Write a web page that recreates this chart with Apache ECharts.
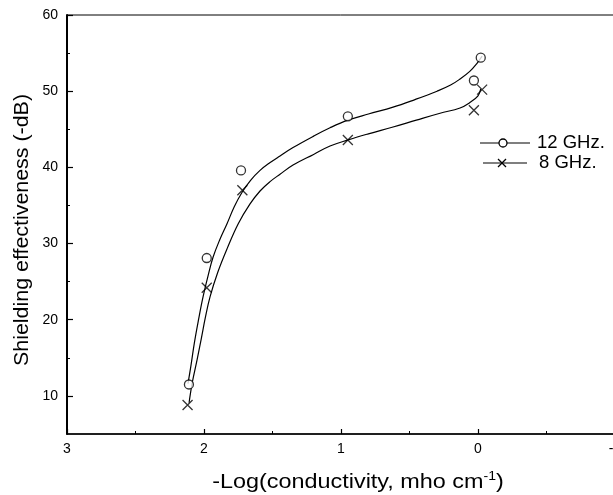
<!DOCTYPE html>
<html>
<head>
<meta charset="utf-8">
<script src="https://cdn.jsdelivr.net/npm/echarts@6/dist/echarts.min.js"></script>
<style>html,body{margin:0;padding:0;background:#fff}#c{width:613px;height:495px}</style>
</head>
<body>
<div id="c"></div>
<script>
// measured points [ -log(conductivity), shielding effectiveness ]
const pts12 = [[2.11, 11.5], [1.98, 28.1], [1.73, 39.6], [0.95, 46.7], [0.03, 51.4], [-0.02, 54.4]];
const pts8  = [[2.12, 8.8], [1.98, 24.2], [1.72, 37.0], [0.95, 43.6], [0.03, 47.5], [-0.03, 50.2]];
// fitted curves
const curve12 = [[2.117, 11.6], [2.095, 14.0], [2.070, 17.0], [2.040, 20.0], [2.007, 23.0], [1.970, 25.8],
  [1.934, 28.2], [1.885, 30.5], [1.832, 32.6], [1.780, 34.8], [1.723, 36.7], [1.660, 38.3], [1.591, 39.6],
  [1.520, 40.6], [1.445, 41.5], [1.350, 42.6], [1.200, 44.1], [1.080, 45.2], [0.949, 46.2], [0.800, 47.0],
  [0.620, 47.9], [0.460, 48.9], [0.299, 50.0], [0.200, 50.8], [0.131, 51.6], [0.060, 52.6], [0.010, 53.6],
  [-0.030, 54.6]];
const curve8 = [[2.109, 9.1], [2.085, 11.8], [2.051, 14.7], [2.020, 17.5], [1.990, 20.3], [1.956, 23.0],
  [1.900, 26.2], [1.832, 29.3], [1.750, 32.6], [1.664, 35.2], [1.591, 36.9], [1.520, 38.1], [1.445, 39.1],
  [1.350, 40.3], [1.200, 41.7], [1.080, 42.8], [0.949, 43.6], [0.800, 44.4], [0.620, 45.3], [0.450, 46.2],
  [0.277, 47.1], [0.131, 47.8], [0.060, 48.5], [0.000, 49.4], [-0.020, 50.3]];
const yMajor = [10, 20, 30, 40, 50, 60];
const yMinor = [15, 25, 35, 45, 55];
const legendNames = ['12 GHz.', '8 GHz.'];
const xTitle = ['-Log(conductivity, mho cm', '-1', ')'];
const yTitle = 'Shielding effectiveness (-dB)';

const FONT = 'Liberation Sans, Arial, sans-serif';
const crossPath = 'path://M0,0L10,10M10,0L0,10';
const chart = echarts.init(document.getElementById('c'), null, {renderer: 'canvas'});
chart.setOption({
  animation: false,
  backgroundColor: '#fff',
  grid: {left: 67, top: 15, right: -2, bottom: 61, outerBoundsMode: 'none', containLabel: false,
    show: true, borderColor: '#000', borderWidth: 1, backgroundColor: 'transparent'},
  xAxis: {
    type: 'value', inverse: true, min: -1, max: 3, interval: 1,
    axisLine: {onZero: false, lineStyle: {color: '#000', width: 1.5}},
    axisTick: {inside: true, length: 5, lineStyle: {color: '#000', width: 1.2}},
    minorTick: {show: true, splitNumber: 2, length: 3, lineStyle: {color: '#000', width: 1}},
    axisLabel: {fontFamily: FONT, fontSize: 14, color: '#000', margin: 8},
    splitLine: {show: false}
  },
  yAxis: [{
    type: 'value', min: 5, max: 60,
    axisLine: {onZero: false, lineStyle: {color: '#000', width: 2}},
    axisTick: {inside: true, length: 6, customValues: yMajor, lineStyle: {color: '#000', width: 1.2}},
    axisLabel: {fontFamily: FONT, fontSize: 14, color: '#000', margin: 9, customValues: yMajor},
    splitLine: {show: false}
  }, {
    type: 'value', min: 5, max: 60, position: 'left',
    axisLine: {show: false, onZero: false},
    axisTick: {inside: true, length: 3, customValues: yMinor, lineStyle: {color: '#000', width: 1}},
    axisLabel: {show: false},
    splitLine: {show: false}
  }],
  series: [
    {type: 'line', data: curve12, smooth: 0.4, showSymbol: false, symbol: 'none', lineStyle: {color: '#000', width: 1.2}, silent: true, z: 2},
    {type: 'line', data: curve8, smooth: 0.4, showSymbol: false, symbol: 'none', lineStyle: {color: '#000', width: 1.2}, silent: true, z: 2},
    {name: legendNames[0], type: 'scatter', data: pts12, symbol: 'circle', symbolSize: 9,
      itemStyle: {color: '#fff', borderColor: '#000', borderWidth: 1.3}, z: 3},
    {name: legendNames[1], type: 'scatter', data: pts8, symbol: crossPath, symbolSize: 10,
      itemStyle: {color: 'none', borderColor: '#000', borderWidth: 1.3}, z: 3}
  ],
  graphic: [
    {type: 'text', x: 358, y: 482, scaleX: 1.17, scaleY: 1,
      style: {text: '{a|' + xTitle[0] + '}{s|' + xTitle[1] + '}{a|' + xTitle[2] + '}', align: 'center', verticalAlign: 'middle',
        rich: {a: {fontFamily: FONT, fontSize: 20, fill: '#000', lineHeight: 22}, s: {fontFamily: FONT, fontSize: 12, fill: '#000', verticalAlign: 'top', lineHeight: 22}}}},
    {type: 'text', x: 22, y: 230, rotation: Math.PI / 2, scaleX: 1.07, scaleY: 1,
      style: {text: yTitle, fontFamily: FONT, fontSize: 20, fill: '#000', align: 'center', verticalAlign: 'middle'}},
    {type: 'line', shape: {x1: 480, y1: 143, x2: 530, y2: 143}, style: {stroke: '#000', lineWidth: 1.2}},
    {type: 'circle', shape: {cx: 503, cy: 143, r: 4}, style: {fill: '#fff', stroke: '#000', lineWidth: 1.3}},
    {type: 'text', x: 537, y: 143, style: {text: legendNames[0], fontFamily: FONT, fontSize: 18.5, fill: '#000', verticalAlign: 'middle'}},
    {type: 'line', shape: {x1: 483, y1: 163, x2: 527, y2: 163}, style: {stroke: '#000', lineWidth: 1.2}},
    {type: 'polyline', shape: {points: [[498, 159], [506, 167]]}, style: {stroke: '#000', lineWidth: 1.3, fill: null}},
    {type: 'polyline', shape: {points: [[506, 159], [498, 167]]}, style: {stroke: '#000', lineWidth: 1.3, fill: null}},
    {type: 'text', x: 539, y: 163, style: {text: legendNames[1], fontFamily: FONT, fontSize: 18.5, fill: '#000', verticalAlign: 'middle'}}
  ]
});
</script>
</body>
</html>
